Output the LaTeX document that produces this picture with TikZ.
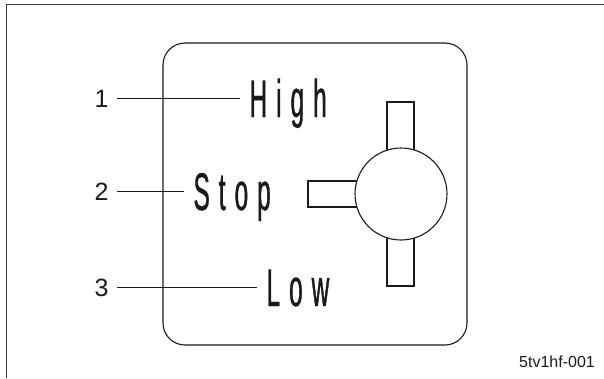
\documentclass[tikz,border=0pt]{standalone}
\usepackage{fontspec}
\setmainfont{Liberation Sans}
\newfontfamily\dialfont[FakeStretch=0.46,FakeBold=0.7,LetterSpace=17]{Liberation Sans}
\usetikzlibrary{positioning}
\definecolor{cink}{HTML}{1A1A1A}
\definecolor{cframe}{HTML}{3A3A3A}
\tikzset{
  every picture/.style={line width=1.1pt, draw=cink},
  dial/.style={font=\dialfont\fontsize{53}{53}\selectfont, text=cink, anchor=west, inner xsep=9pt, inner ysep=0pt, text height=38pt, text depth=0pt},
  num/.style={font=\fontsize{25}{25}\selectfont, text=cink, anchor=east, inner xsep=8pt, inner ysep=0pt, text height=18pt, text depth=0pt},
  leader/.style={draw=cink, line width=0.9pt},
  tab/.style={draw=cink, fill=white},
  caption/.style={font=\fontsize{16}{16}\selectfont, text=cink},
}

\begin{document}
\begin{tikzpicture}[x=1pt, y=-1pt]
  \useasboundingbox (0,0) rectangle (604,378);
  \draw[cframe, line width=1.6pt] (6.5,378) -- (6.5,4.5) -- (604,4.5);
  \draw[rounded corners=22pt] (163,43) rectangle (467,345);
  % knob
  \draw[tab] (387,102) rectangle (414,160);
  \draw[tab] (387,228) rectangle (414,286);
  \draw[tab] (308,181) rectangle (365,207);
  \draw[tab] (401,194) circle (46);
  % labels
  \node[num] (n1) at (117,98) {1};
  \node[dial] (high) at (240,98) {High};
  \draw[leader] (n1) -- (high);
  \node[num] (n2) at (117,191) {2};
  \node[dial] (stop) at (184,191) {Stop};
  \draw[leader] (n2) -- (stop);
  \node[num] (n3) at (117,287) {3};
  \node[dial] (low) at (257,287) {Low};
  \draw[leader] (n3) -- (low);
  \node[caption] (code) at (557,362) {5tv1hf-001};
\end{tikzpicture}
\end{document}
